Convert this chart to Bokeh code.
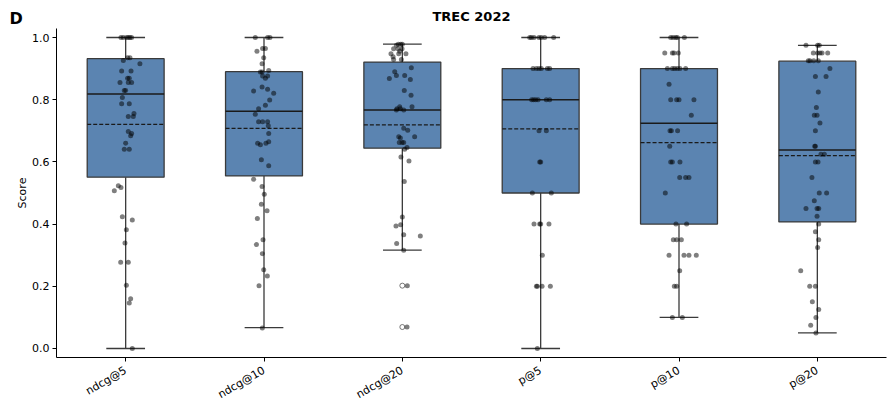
import math
from bokeh.plotting import figure
from bokeh.models import Range1d, FixedTicker, NumeralTickFormatter, Label
from bokeh.embed import file_html
from bokeh.resources import INLINE

categories = ["ndcg@5", "ndcg@10", "ndcg@20", "p@5", "p@10", "p@20"]
title_text = "TREC 2022"
panel_letter = "D"

# box statistics
q1 = [0.551, 0.555, 0.644, 0.500, 0.400, 0.407]
median = [0.818, 0.763, 0.767, 0.800, 0.724, 0.638]
q3 = [0.932, 0.890, 0.921, 0.900, 0.900, 0.924]
mean = [0.721, 0.708, 0.719, 0.706, 0.662, 0.620]
whisker_low = [0.0, 0.067, 0.316, 0.0, 0.100, 0.050]
whisker_high = [1.0, 1.0, 0.979, 1.0, 1.0, 0.975]

# outliers (hollow) for ndcg@20
flier_cat = [2, 2]
flier_val = [0.202, 0.069]

# individual query scores and their horizontal jitter
vals_ndcg5 = [1.0, 1.0, 1.0, 1.0, 1.0, 1.0, 0.935, 0.935, 0.926, 0.916, 0.892, 0.892,
              0.869, 0.869, 0.855, 0.855, 0.855, 0.830, 0.830, 0.807, 0.787, 0.787,
              0.756, 0.746, 0.746, 0.698, 0.691, 0.684, 0.660, 0.641, 0.641, 0.523,
              0.518, 0.507, 0.424, 0.413, 0.382, 0.339, 0.277, 0.277, 0.203, 0.160,
              0.146, 0.0]
jit_ndcg5 = [-0.034, -0.017, 0.007, 0.019, 0.031, 0.043, 0.014, 0.031, -0.017, 0.103, -0.029, 0.039,
             0.014, 0.026, -0.041, 0.019, 0.043, -0.010, 0.0, -0.024, -0.029, 0.026,
             0.060, 0.019, 0.055, 0.019, 0.043, 0.036, 0.0, -0.010, 0.026, -0.053,
             -0.034, -0.082, -0.024, 0.048, 0.005, -0.005, -0.036, 0.019, 0.005, 0.036,
             0.026, 0.048]

vals_ndcg10 = [1.0, 1.0, 1.0, 0.965, 0.965, 0.956, 0.935, 0.916, 0.894, 0.889, 0.889,
               0.876, 0.876, 0.869, 0.841, 0.834, 0.828, 0.821, 0.799, 0.782, 0.771,
               0.753, 0.729, 0.729, 0.729, 0.716, 0.691, 0.665, 0.660, 0.660, 0.655,
               0.607, 0.588, 0.544, 0.521, 0.496, 0.464, 0.443, 0.418, 0.350, 0.334,
               0.305, 0.253, 0.233, 0.202, 0.066]
jit_ndcg10 = [-0.063, 0.026, 0.043, -0.010, 0.010, -0.051, -0.002, -0.014, 0.034, -0.026, -0.014,
              -0.010, 0.026, 0.010, -0.014, 0.026, -0.075, 0.070, 0.041, 0.010, -0.039,
              -0.063, -0.039, -0.010, 0.026, 0.031, 0.034, 0.034, -0.046, 0.014, -0.026,
              -0.019, 0.034, -0.075, -0.014, 0.002, -0.019, 0.022, -0.048, -0.007, -0.055,
              -0.012, -0.002, 0.024, -0.036, -0.012]

vals_ndcg20 = [0.978, 0.978, 0.978, 0.975, 0.964, 0.964, 0.964, 0.956, 0.948, 0.948, 0.948,
               0.938, 0.929, 0.929, 0.903, 0.890, 0.878, 0.878, 0.868, 0.865, 0.830,
               0.814, 0.777, 0.777, 0.771, 0.771, 0.767, 0.767, 0.708, 0.702, 0.681,
               0.681, 0.677, 0.662, 0.662, 0.662, 0.646, 0.641, 0.616, 0.603, 0.537,
               0.423, 0.398, 0.394, 0.366, 0.362, 0.338, 0.316, 0.202, 0.069]
jit_ndcg20 = [-0.029, -0.012, 0.0, -0.043, -0.063, -0.031, -0.002, -0.019, -0.082, -0.026, 0.026,
              -0.067, -0.063, -0.007, 0.065, -0.055, -0.043, 0.017, -0.094, 0.058, 0.014,
              0.063, -0.019, 0.070, -0.039, -0.014, -0.043, 0.010, 0.010, 0.039, -0.026,
              0.089, -0.014, -0.022, -0.002, 0.010, 0.034, 0.017, -0.010, 0.048, 0.014,
              0.0, -0.012, -0.046, 0.010, 0.130, -0.041, 0.010, 0.036, 0.034]

vals_p5 = [1.0, 1.0, 1.0, 1.0, 1.0, 1.0, 1.0, 0.9, 0.9, 0.9, 0.9, 0.9, 0.9,
           0.8, 0.8, 0.8, 0.8, 0.8, 0.8, 0.7, 0.7, 0.6, 0.6, 0.5, 0.5,
           0.4, 0.4, 0.4, 0.4, 0.3, 0.2, 0.2, 0.2, 0.2, 0.0]
jit_p5 = [-0.079, -0.067, -0.048, -0.012, 0.005, 0.029, 0.094, -0.055, -0.031, -0.012, 0.005, 0.048, 0.065,
          -0.065, -0.051, -0.036, -0.019, 0.041, 0.065, -0.012, 0.041, -0.007, 0.0, -0.060, 0.077,
          -0.048, -0.007, 0.0, 0.060, 0.012, -0.031, -0.024, 0.010, 0.070, -0.024]

vals_p10 = [1.0, 1.0, 1.0, 1.0, 1.0, 0.95, 0.95, 0.95, 0.95, 0.9, 0.9, 0.9, 0.9, 0.9, 0.9,
            0.85, 0.8, 0.8, 0.8, 0.8, 0.75, 0.7, 0.7, 0.7, 0.65, 0.6, 0.6, 0.6,
            0.55, 0.55, 0.55, 0.5, 0.4, 0.4, 0.35, 0.35, 0.35, 0.3, 0.3, 0.3, 0.3,
            0.25, 0.2, 0.2, 0.1, 0.1]
jit_p10 = [-0.060, -0.043, -0.024, -0.012, 0.039, -0.103, -0.048, -0.036, -0.005, -0.084, -0.048, -0.031, -0.012, 0.007, 0.048,
           -0.072, -0.060, -0.017, 0.0, 0.108, 0.089, -0.065, -0.055, -0.010, -0.067, -0.060, -0.048, 0.007,
           0.005, 0.048, 0.072, -0.099, -0.022, 0.055, -0.041, -0.017, 0.017, -0.072, 0.036, 0.072, 0.125,
           0.005, -0.034, -0.017, -0.048, 0.024]

vals_p20 = [0.975, 0.975, 0.975, 0.95, 0.95, 0.95, 0.95, 0.95, 0.925, 0.925, 0.925, 0.925,
            0.9, 0.875, 0.875, 0.825, 0.775, 0.75, 0.75, 0.725, 0.7, 0.65, 0.65, 0.625, 0.625,
            0.6, 0.6, 0.55, 0.5, 0.5, 0.475, 0.45, 0.45, 0.45, 0.425, 0.4, 0.375, 0.35, 0.325,
            0.25, 0.2, 0.2, 0.15, 0.125, 0.1, 0.075, 0.05]
jit_p20 = [-0.082, 0.002, 0.014, -0.029, 0.002, 0.019, 0.034, 0.075, -0.065, -0.053, -0.026, 0.007,
           0.091, -0.014, 0.063, 0.007, -0.007, -0.022, -0.002, 0.019, -0.014, -0.019, -0.014, 0.026, 0.051,
           -0.014, 0.005, -0.039, 0.014, 0.067, -0.022, -0.082, -0.002, 0.010, -0.002, 0.010, -0.014, 0.010, 0.002,
           -0.120, -0.055, -0.014, -0.036, 0.010, -0.010, -0.048, -0.010]

point_vals = [vals_ndcg5, vals_ndcg10, vals_ndcg20, vals_p5, vals_p10, vals_p20]
point_jit = [jit_ndcg5, jit_ndcg10, jit_ndcg20, jit_p5, jit_p10, jit_p20]

FONT = "DejaVu Sans"
BOX_COLOR = "#5b84b1"
EDGE = "#3a3a3a"
W, H = 888, 409

p = figure(width=W, height=H, x_range=Range1d(-0.5, 5.5), y_range=Range1d(-0.029, 1.029),
           output_backend="svg", toolbar_location=None,
           min_border_left=55, min_border_right=2, min_border_top=28, min_border_bottom=51)
p.outline_line_color = None
p.xgrid.visible = False
p.ygrid.visible = False
p.background_fill_color = "white"

p.title.text = title_text
p.title.align = "center"
p.title.text_font = FONT
p.title.text_font_size = "13px"
p.title.text_font_style = "bold"
p.title.text_color = "black"
p.title.standoff = 10

idx = list(range(len(categories)))
half_box = 0.278
half_cap = 0.14

# whiskers
p.segment(x0=idx, y0=whisker_low, x1=idx, y1=q1, line_color=EDGE, line_width=1.3)
p.segment(x0=idx, y0=q3, x1=idx, y1=whisker_high, line_color=EDGE, line_width=1.3)
# caps
p.segment(x0=[i - half_cap for i in idx], y0=whisker_low, x1=[i + half_cap for i in idx], y1=whisker_low,
          line_color=EDGE, line_width=1.3)
p.segment(x0=[i - half_cap for i in idx], y0=whisker_high, x1=[i + half_cap for i in idx], y1=whisker_high,
          line_color=EDGE, line_width=1.3)
# boxes
p.quad(left=[i - half_box for i in idx], right=[i + half_box for i in idx], bottom=q1, top=q3,
       fill_color=BOX_COLOR, line_color=EDGE, line_width=1.3)
# median
p.segment(x0=[i - half_box for i in idx], y0=median, x1=[i + half_box for i in idx], y1=median,
          line_color="#1a1a1a", line_width=1.5)
# mean
p.segment(x0=[i - half_box for i in idx], y0=mean, x1=[i + half_box for i in idx], y1=mean,
          line_color="#1a1a1a", line_width=1.3, line_dash="4 2")

# fliers
p.scatter(x=flier_cat, y=flier_val, size=5, fill_color="white", line_color="#555555", line_width=0.8)

# points
xs, ys = [], []
for i, (vals, jits) in enumerate(zip(point_vals, point_jit)):
    for v, j in zip(vals, jits):
        xs.append(i + j)
        ys.append(v)
p.scatter(x=xs, y=ys, size=5, fill_color="black", fill_alpha=0.5, line_alpha=0)

# axes
p.xaxis.ticker = FixedTicker(ticks=idx)
p.xaxis.major_label_overrides = {i: c for i, c in enumerate(categories)}
p.xaxis.major_label_orientation = math.pi / 6
p.yaxis.ticker = FixedTicker(ticks=[0.0, 0.2, 0.4, 0.6, 0.8, 1.0])
p.yaxis.formatter = NumeralTickFormatter(format="0.0")
p.yaxis.axis_label = "Score"
for ax in (p.xaxis, p.yaxis):
    ax.axis_line_color = "black"
    ax.axis_line_width = 1
    ax.major_tick_in = 0
    ax.major_tick_out = 4
    ax.major_tick_line_color = "black"
    ax.minor_tick_line_color = None
    ax.major_label_text_font = FONT
    ax.major_label_text_font_size = "11px"
    ax.major_label_text_color = "black"
    ax.major_label_standoff = 3
p.xaxis.major_label_standoff = 8
p.yaxis.axis_label_text_font = FONT
p.yaxis.axis_label_text_font_size = "11px"
p.yaxis.axis_label_text_font_style = "normal"
p.yaxis.axis_label_text_color = "black"
p.yaxis.axis_label_standoff = 0

# panel letter, laid out in a side panel so that it is not clipped to the frame
p.add_layout(Label(x=9, y=8, x_units="canvas", y_units="canvas", text=panel_letter,
                   text_align="left", text_baseline="top",
                   text_font=FONT, text_font_size="16px", text_font_style="bold", text_color="black"),
             "left")

open("out.html", "w").write(file_html(p, INLINE))
